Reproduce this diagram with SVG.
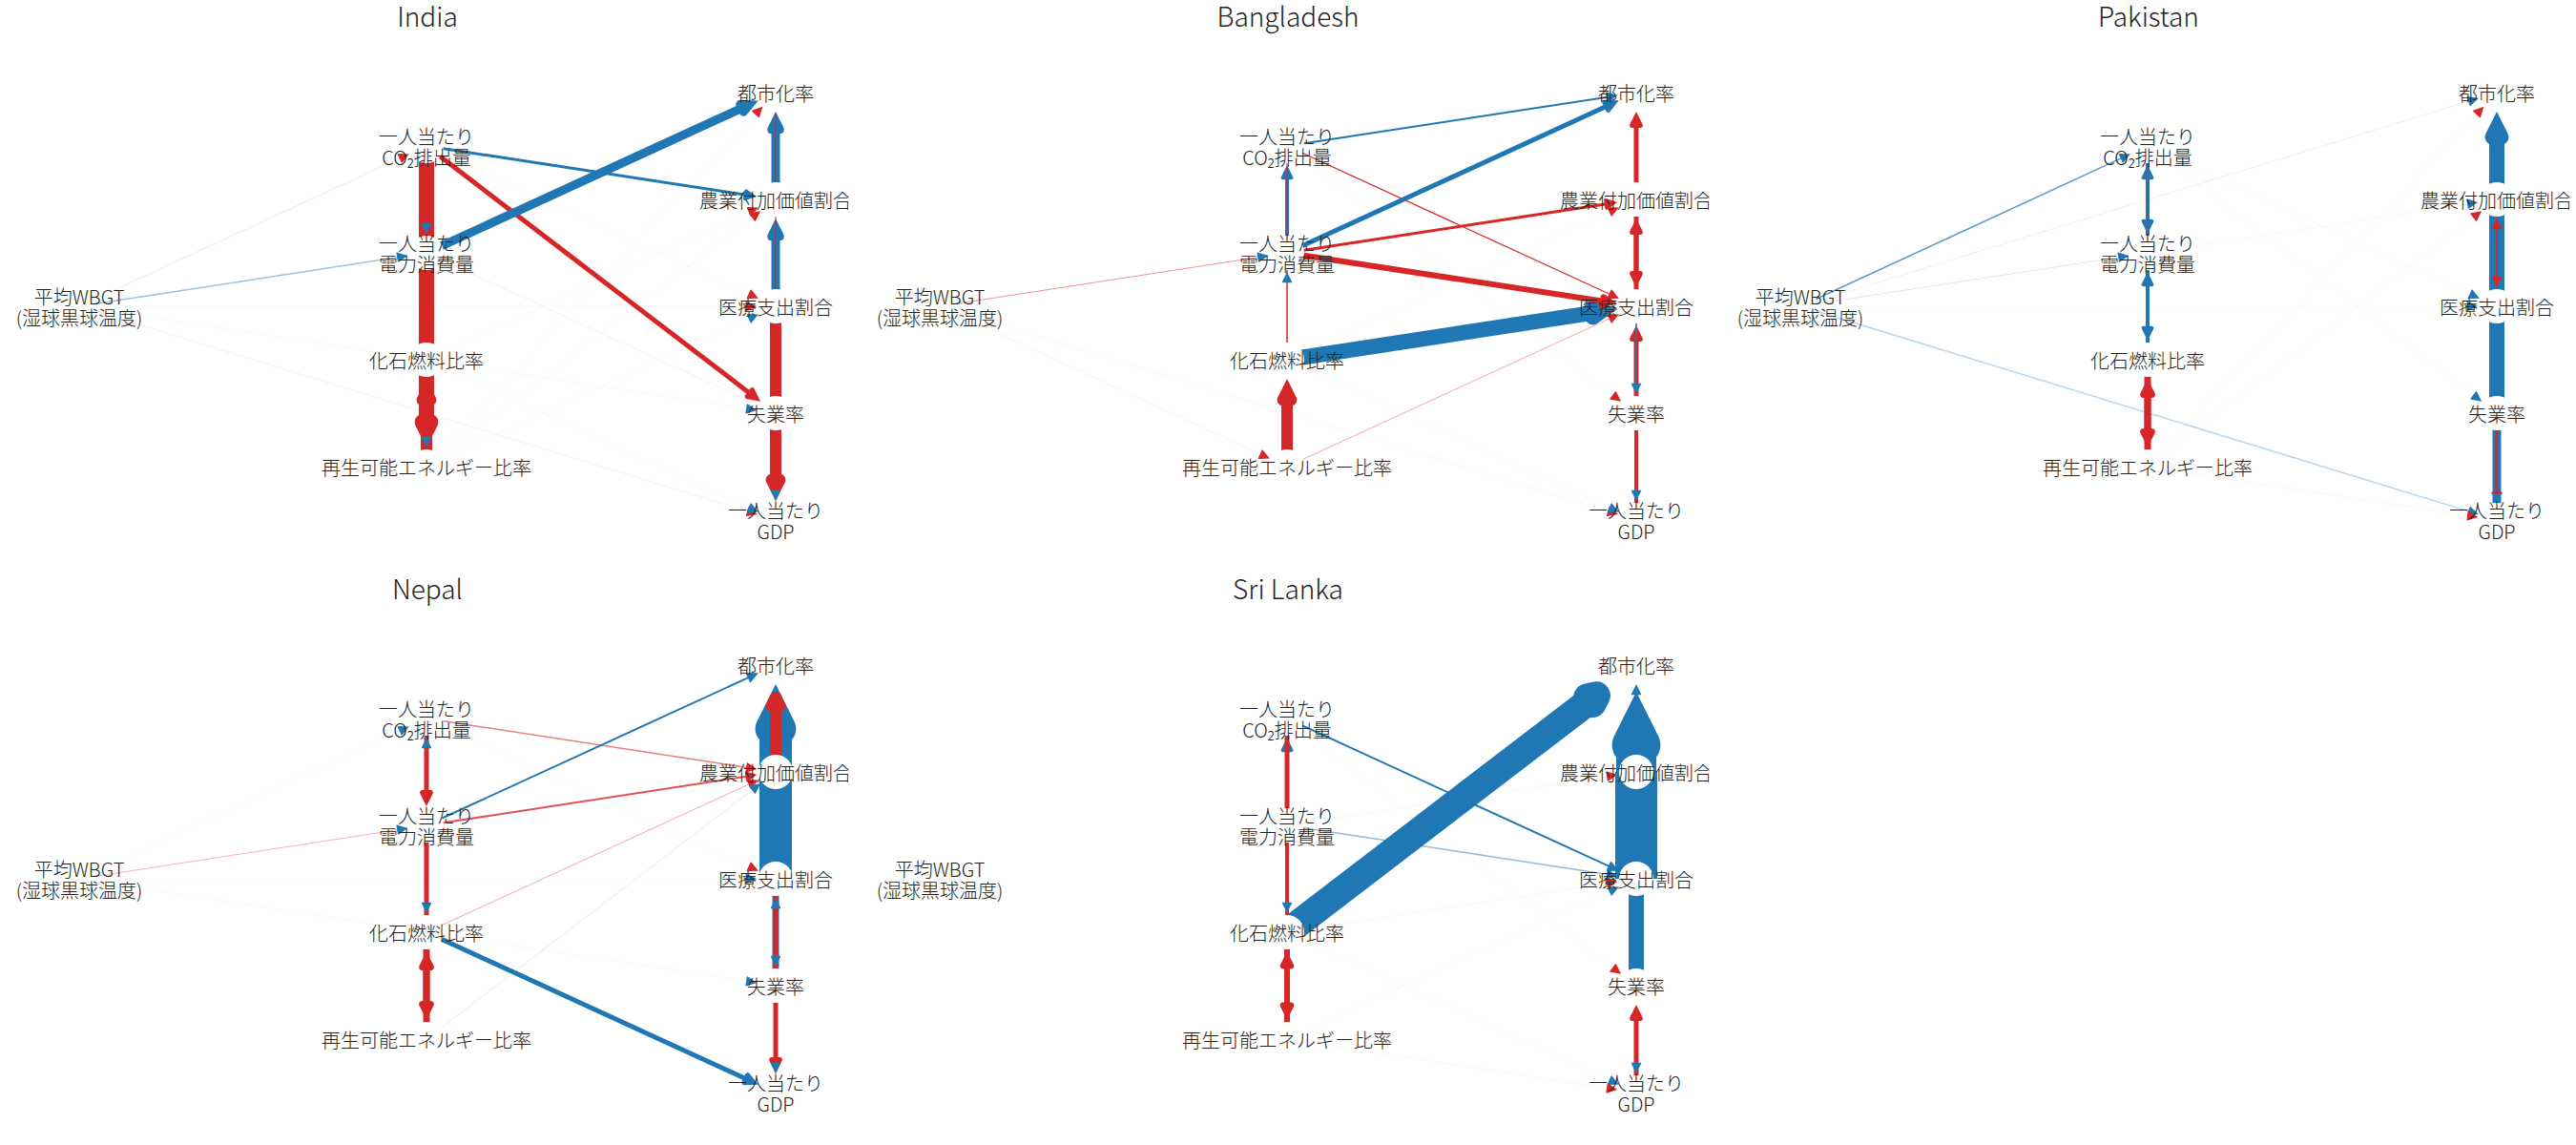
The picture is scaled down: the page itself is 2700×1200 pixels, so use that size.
<svg xmlns="http://www.w3.org/2000/svg" width="2700" height="1200" viewBox="0 0 2700 1200">
<style>
.eb{stroke:#1f77b4;fill:none}
.er{stroke:#d62728;fill:none}
.h{stroke:none;fill:none}
.fb{fill:#1f77b4}
.fr{fill:#d62728}
.nd circle{fill:#fff}
.nd text{font-family:"Noto Sans CJK JP","Noto Sans",sans-serif;font-weight:300;font-size:20px;fill:#222;text-anchor:middle;dominant-baseline:central}
.tt{font-family:"Noto Sans CJK JP","Noto Sans",sans-serif;font-weight:300;font-size:28px;fill:#222;text-anchor:middle}
marker{overflow:visible}
</style>
<defs>
<clipPath id="cp"><rect x="0" y="35" width="889.5" height="560"/></clipPath>
<marker id="b1" markerUnits="userSpaceOnUse" orient="auto" markerWidth="1" markerHeight="1"><path class="fb" d="M1.68,0L-8.46,5.07A0.75,0.75 0 0 1 -9.55,4.4L-9.55,-4.4A0.75,0.75 0 0 1 -8.46,-5.07Z"/></marker>
<marker id="r1" markerUnits="userSpaceOnUse" orient="auto" markerWidth="1" markerHeight="1"><path class="fr" d="M1.68,0L-8.46,5.07A0.75,0.75 0 0 1 -9.55,4.4L-9.55,-4.4A0.75,0.75 0 0 1 -8.46,-5.07Z"/></marker>
<marker id="b2" markerUnits="userSpaceOnUse" orient="auto" markerWidth="1" markerHeight="1"><path class="fb" d="M2.24,0L-8.35,5.29A1,1 0 0 1 -9.8,4.4L-9.8,-4.4A1,1 0 0 1 -8.35,-5.29Z"/></marker>
<marker id="r2" markerUnits="userSpaceOnUse" orient="auto" markerWidth="1" markerHeight="1"><path class="fr" d="M2.24,0L-8.35,5.29A1,1 0 0 1 -9.8,4.4L-9.8,-4.4A1,1 0 0 1 -8.35,-5.29Z"/></marker>
<marker id="b3" markerUnits="userSpaceOnUse" orient="auto" markerWidth="1" markerHeight="1"><path class="fb" d="M3.35,0L-8.13,5.74A1.5,1.5 0 0 1 -10.3,4.4L-10.3,-4.4A1.5,1.5 0 0 1 -8.13,-5.74Z"/></marker>
<marker id="r3" markerUnits="userSpaceOnUse" orient="auto" markerWidth="1" markerHeight="1"><path class="fr" d="M3.35,0L-8.13,5.74A1.5,1.5 0 0 1 -10.3,4.4L-10.3,-4.4A1.5,1.5 0 0 1 -8.13,-5.74Z"/></marker>
<marker id="b4" markerUnits="userSpaceOnUse" orient="auto" markerWidth="1" markerHeight="1"><path class="fb" d="M4.47,0L-7.91,6.19A2,2 0 0 1 -10.8,4.4L-10.8,-4.4A2,2 0 0 1 -7.91,-6.19Z"/></marker>
<marker id="b5" markerUnits="userSpaceOnUse" orient="auto" markerWidth="1" markerHeight="1"><path class="fb" d="M5.59,0L-7.68,6.64A2.5,2.5 0 0 1 -11.3,4.4L-11.3,-4.4A2.5,2.5 0 0 1 -7.68,-6.64Z"/></marker>
<marker id="r5" markerUnits="userSpaceOnUse" orient="auto" markerWidth="1" markerHeight="1"><path class="fr" d="M5.59,0L-7.68,6.64A2.5,2.5 0 0 1 -11.3,4.4L-11.3,-4.4A2.5,2.5 0 0 1 -7.68,-6.64Z"/></marker>
<marker id="r6" markerUnits="userSpaceOnUse" orient="auto" markerWidth="1" markerHeight="1"><path class="fr" d="M6.71,0L-7.46,7.08A3,3 0 0 1 -11.8,4.4L-11.8,-4.4A3,3 0 0 1 -7.46,-7.08Z"/></marker>
<marker id="r7" markerUnits="userSpaceOnUse" orient="auto" markerWidth="1" markerHeight="1"><path class="fr" d="M7.83,0L-7.24,7.53A3.5,3.5 0 0 1 -12.3,4.4L-12.3,-4.4A3.5,3.5 0 0 1 -7.24,-7.53Z"/></marker>
<marker id="b9" markerUnits="userSpaceOnUse" orient="auto" markerWidth="1" markerHeight="1"><path class="fb" d="M10.06,0L-6.79,8.42A4.5,4.5 0 0 1 -13.3,4.4L-13.3,-4.4A4.5,4.5 0 0 1 -6.79,-8.42Z"/></marker>
<marker id="r12" markerUnits="userSpaceOnUse" orient="auto" markerWidth="1" markerHeight="1"><path class="fr" d="M13.42,0L-6.12,9.76A6,6 0 0 1 -14.8,4.4L-14.8,-4.4A6,6 0 0 1 -6.12,-9.76Z"/></marker>
<marker id="r12r" markerUnits="userSpaceOnUse" orient="auto" markerWidth="1" markerHeight="1"><path class="fr" d="M2.68,-5.36A6,6 0 0 1 2.68,5.36L-6.12,9.76A6,6 0 0 1 -14.8,4.4L-14.8,-4.4A6,6 0 0 1 -6.12,-9.76Z"/></marker>
<marker id="b16" markerUnits="userSpaceOnUse" orient="auto" markerWidth="1" markerHeight="1"><path class="fb" d="M17.89,0L-5.22,11.55A8,8 0 0 1 -16.8,4.4L-16.8,-4.4A8,8 0 0 1 -5.22,-11.55Z"/></marker>
<marker id="r16" markerUnits="userSpaceOnUse" orient="auto" markerWidth="1" markerHeight="1"><path class="fr" d="M17.89,0L-5.22,11.55A8,8 0 0 1 -16.8,4.4L-16.8,-4.4A8,8 0 0 1 -5.22,-11.55Z"/></marker>
<marker id="b29" markerUnits="userSpaceOnUse" orient="auto" markerWidth="1" markerHeight="1"><path class="fb" d="M6.48,-12.96A14.5,14.5 0 0 1 6.48,12.96L-2.32,17.36A14.5,14.5 0 0 1 -23.3,4.4L-23.3,-4.4A14.5,14.5 0 0 1 -2.32,-17.36Z"/></marker>
<marker id="b34" markerUnits="userSpaceOnUse" orient="auto" markerWidth="1" markerHeight="1"><path class="fb" d="M38.01,0L-1.2,19.6A17,17 0 0 1 -25.8,4.4L-25.8,-4.4A17,17 0 0 1 -1.2,-19.6Z"/></marker>
<marker id="b42" markerUnits="userSpaceOnUse" orient="auto" markerWidth="1" markerHeight="1"><path class="fb" d="M46.96,0L0.59,23.17A21,21 0 0 1 -29.8,4.4L-29.8,-4.4A21,21 0 0 1 0.59,-23.17Z"/></marker>
</defs>
<rect width="2700" height="1200" fill="#fff"/>

<!-- ===== India ===== -->
<g id="india" transform="translate(0,0)">
<text class="tt" x="448" y="28">India</text>
<g id="india-edges">
<line class="er" stroke-width="1" stroke-opacity=".12" x1="83" y1="321" x2="427.3" y2="162.1" marker-end="url(#r1)"/>
<line class="eb" stroke-width="1.5" stroke-opacity=".45" x1="83" y1="321" x2="425.6" y2="268.3" marker-end="url(#b1)"/>
<line class="er" stroke-width="1" stroke-opacity=".08" x1="83" y1="321" x2="792.3" y2="538.6" marker-end="url(#r1)"/>
<line class="er" stroke-width="1" stroke-opacity=".08" x1="447" y1="265" x2="793.3" y2="424"/>
<line class="eb" stroke-width="1" stroke-opacity=".035" x1="83" y1="321" x2="791.5" y2="429.7" marker-end="url(#b1)"/>
<line class="eb" stroke-width="1" stroke-opacity=".035" x1="447" y1="377" x2="793.3" y2="535.9" marker-end="url(#b1)"/>
<line class="er" stroke-width="1" stroke-opacity=".035" x1="447" y1="153" x2="793.3" y2="312" marker-end="url(#r1)"/>
<line class="er" stroke-width="1" stroke-opacity=".035" x1="83" y1="321" x2="791.3" y2="321" marker-end="url(#r1)"/>
<line class="eb" stroke-width="1" stroke-opacity=".035" x1="447" y1="489" x2="793.3" y2="330.1" marker-end="url(#b1)"/>
<line class="er" stroke-width="1" stroke-opacity=".035" x1="447" y1="489" x2="798.2" y2="112.9" marker-end="url(#r1)"/>
<line class="er" stroke-width="1" stroke-opacity=".035" x1="447" y1="377" x2="793.3" y2="218.1" marker-end="url(#r1)"/>
<line class="er" stroke-width="1" stroke-opacity=".035" x1="447" y1="489" x2="795.8" y2="222.2" marker-end="url(#r1)"/>
<line class="er" stroke-width="16" x1="447" y1="153" x2="447" y2="265"/>
<line class="er" stroke-width="16" x1="447" y1="265" x2="447" y2="377"/>
<line class="er" stroke-width="12" x1="447" y1="489" x2="447" y2="410.4" marker-end="url(#r12)"/>
<line class="er" stroke-width="16" x1="447" y1="377" x2="447" y2="451.1" marker-end="url(#r16)"/>
<line class="er" stroke-width="5" x1="447" y1="153" x2="792.7" y2="417.4" marker-end="url(#r5)"/>
<line class="eb" stroke-width="9" x1="447" y1="265" x2="785.6" y2="109.6" marker-end="url(#b9)"/>
<line class="eb" stroke-width="3" x1="447" y1="153" x2="789.9" y2="205.5" marker-end="url(#b3)"/>
<line class="eb" stroke-width="9" x1="813" y1="209" x2="813" y2="127.1" marker-end="url(#b9)"/>
<line class="eb" stroke-width="9" x1="813" y1="321" x2="813" y2="239.1" marker-end="url(#b9)"/>
<line class="er" stroke-width="1" x1="813" y1="209" x2="813" y2="118"/>
<line class="er" stroke-width="1" x1="813" y1="321" x2="813" y2="209"/>
<line class="er" stroke-width="12" x1="813" y1="321" x2="813" y2="433"/>
<line class="er" stroke-width="12" x1="813" y1="433" x2="813" y2="511.6" marker-end="url(#r12)"/>
<line class="h" x1="447" y1="153" x2="447" y2="243.3" marker-end="url(#b1)"/>
<line class="h" x1="447" y1="377" x2="447" y2="467.3" marker-end="url(#b1)"/>
<line class="h" x1="813" y1="433" x2="813" y2="523.3" marker-end="url(#b1)"/>
</g>
<g clip-path="url(#cp)">
<g id="in-urb" class="nd"><circle cx="813" cy="97" r="18"/><text x="813" y="97">都市化率</text></g>
<g id="in-agr" class="nd"><circle cx="813" cy="209" r="18"/><text x="813" y="209">農業付加価値割合</text></g>
<g id="in-hlt" class="nd"><circle cx="813" cy="321" r="18"/><text x="813" y="321">医療支出割合</text></g>
<g id="in-une" class="nd"><circle cx="813" cy="433" r="18"/><text x="813" y="433">失業率</text></g>
<g id="in-gdp" class="nd"><circle cx="813" cy="545" r="18"/><text x="813" y="534">一人当たり<tspan x="813" dy="22">GDP</tspan></text></g>
<g id="in-co2" class="nd"><circle cx="447" cy="153" r="18"/><text x="447" y="142">一人当たり<tspan x="447" dy="22">CO₂排出量</tspan></text></g>
<g id="in-ele" class="nd"><circle cx="447" cy="265" r="18"/><text x="447" y="254">一人当たり<tspan x="447" dy="22">電力消費量</tspan></text></g>
<g id="in-fos" class="nd"><circle cx="447" cy="377" r="18"/><text x="447" y="377">化石燃料比率</text></g>
<g id="in-ren" class="nd"><circle cx="447" cy="489" r="18"/><text x="447" y="489">再生可能エネルギー比率</text></g>
<g id="in-wbgt" class="nd"><circle cx="83" cy="321" r="18"/><text x="83" y="310">平均WBGT<tspan x="83" dy="22">(湿球黒球温度)</tspan></text></g>
</g>
</g>

<!-- ===== Bangladesh ===== -->
<g id="bangladesh" transform="translate(902,0)">
<text class="tt" x="448" y="28">Bangladesh</text>
<g id="bangladesh-edges">
<line class="er" stroke-width="1" stroke-opacity=".5" x1="83" y1="321" x2="425.6" y2="268.3" marker-end="url(#b1)"/>
<line class="er" stroke-width="1" stroke-opacity=".06" x1="83" y1="321" x2="427.3" y2="479.9" marker-end="url(#r1)"/>
<line class="er" stroke-width="1" stroke-opacity=".4" x1="447" y1="489" x2="793.3" y2="330.1" marker-end="url(#r1)"/>
<line class="er" stroke-width="1" stroke-opacity=".035" x1="447" y1="377" x2="793.3" y2="218.1" marker-end="url(#r1)"/>
<line class="er" stroke-width="1" stroke-opacity=".035" x1="447" y1="153" x2="795.8" y2="419.8" marker-end="url(#r1)"/>
<line class="er" stroke-width="1" stroke-opacity=".035" x1="83" y1="321" x2="792.3" y2="538.6" marker-end="url(#r1)"/>
<line class="eb" stroke-width="1" stroke-opacity=".035" x1="447" y1="377" x2="793.3" y2="535.9" marker-end="url(#b1)"/>
<line class="er" stroke-width="1.2" x1="447" y1="153" x2="793.3" y2="312" marker-end="url(#r1)"/>
<line class="eb" stroke-width="16" x1="447" y1="377" x2="775.5" y2="326.7" marker-end="url(#b16)"/>
<line class="eb" stroke-width="2" x1="447" y1="153" x2="791.1" y2="100.4" marker-end="url(#b2)"/>
<line class="eb" stroke-width="5" x1="447" y1="265" x2="789.7" y2="107.7" marker-end="url(#b5)"/>
<line class="eb" stroke-width="4" x1="447" y1="265" x2="447" y2="177.5" marker-end="url(#b4)"/>
<line class="er" stroke-width="1" x1="447" y1="153" x2="447" y2="265"/>
<line class="er" stroke-width="3" x1="447" y1="265" x2="789.9" y2="212.5" marker-end="url(#r3)"/>
<line class="er" stroke-width="6" x1="447" y1="265" x2="786.6" y2="317" marker-end="url(#r6)"/>
<line class="er" stroke-width="1.5" x1="447" y1="377" x2="447" y2="265"/>
<line class="h" x1="447" y1="377" x2="447" y2="286.7" marker-end="url(#b1)"/>
<line class="er" stroke-width="12" x1="447" y1="489" x2="447" y2="410.4" marker-end="url(#r12)"/>
<line class="er" stroke-width="5" x1="813" y1="209" x2="813" y2="122.6" marker-end="url(#r5)"/>
<line class="er" stroke-width="5" x1="813" y1="209" x2="813" y2="295.4" marker-end="url(#r5)"/>
<line class="er" stroke-width="5" x1="813" y1="321" x2="813" y2="234.6" marker-end="url(#r5)"/>
<line class="er" stroke-width="5" x1="813" y1="433" x2="813" y2="346.6" marker-end="url(#r5)"/>
<line class="eb" stroke-width="1.5" x1="813" y1="321" x2="813" y2="411.3" marker-end="url(#b1)"/>
<line class="er" stroke-width="4" x1="813" y1="433" x2="813" y2="545"/>
<line class="h" x1="813" y1="433" x2="813" y2="523.3" marker-end="url(#b1)"/>
</g>
<g clip-path="url(#cp)">
<g id="bd-urb" class="nd"><circle cx="813" cy="97" r="18"/><text x="813" y="97">都市化率</text></g>
<g id="bd-agr" class="nd"><circle cx="813" cy="209" r="18"/><text x="813" y="209">農業付加価値割合</text></g>
<g id="bd-hlt" class="nd"><circle cx="813" cy="321" r="18"/><text x="813" y="321">医療支出割合</text></g>
<g id="bd-une" class="nd"><circle cx="813" cy="433" r="18"/><text x="813" y="433">失業率</text></g>
<g id="bd-gdp" class="nd"><circle cx="813" cy="545" r="18"/><text x="813" y="534">一人当たり<tspan x="813" dy="22">GDP</tspan></text></g>
<g id="bd-co2" class="nd"><circle cx="447" cy="153" r="18"/><text x="447" y="142">一人当たり<tspan x="447" dy="22">CO₂排出量</tspan></text></g>
<g id="bd-ele" class="nd"><circle cx="447" cy="265" r="18"/><text x="447" y="254">一人当たり<tspan x="447" dy="22">電力消費量</tspan></text></g>
<g id="bd-fos" class="nd"><circle cx="447" cy="377" r="18"/><text x="447" y="377">化石燃料比率</text></g>
<g id="bd-ren" class="nd"><circle cx="447" cy="489" r="18"/><text x="447" y="489">再生可能エネルギー比率</text></g>
<g id="bd-wbgt" class="nd"><circle cx="83" cy="321" r="18"/><text x="83" y="310">平均WBGT<tspan x="83" dy="22">(湿球黒球温度)</tspan></text></g>
</g>
</g>

<!-- ===== Pakistan ===== -->
<g id="pakistan" transform="translate(1804,0)">
<text class="tt" x="448" y="28">Pakistan</text>
<g id="pakistan-edges">
<line class="eb" stroke-width="1.5" stroke-opacity=".75" x1="83" y1="321" x2="427.3" y2="162.1" marker-end="url(#b1)"/>
<line class="eb" stroke-width="1" stroke-opacity=".12" x1="83" y1="321" x2="425.6" y2="268.3" marker-end="url(#b1)"/>
<line class="eb" stroke-width="1.5" stroke-opacity=".3" x1="83" y1="321" x2="792.3" y2="538.6" marker-end="url(#b1)"/>
<line class="er" stroke-width="1" stroke-opacity=".035" x1="447" y1="489" x2="791.5" y2="541.7" marker-end="url(#r1)"/>
<line class="eb" stroke-width="1" stroke-opacity=".1" x1="83" y1="321" x2="792.3" y2="103.4" marker-end="url(#b1)"/>
<line class="er" stroke-width="1" stroke-opacity=".035" x1="447" y1="489" x2="798.2" y2="112.9" marker-end="url(#r1)"/>
<line class="eb" stroke-width="1" stroke-opacity=".035" x1="83" y1="321" x2="791.5" y2="212.3" marker-end="url(#b1)"/>
<line class="er" stroke-width="1" stroke-opacity=".035" x1="447" y1="489" x2="795.8" y2="222.2" marker-end="url(#r1)"/>
<line class="eb" stroke-width="1" stroke-opacity=".035" x1="447" y1="153" x2="793.3" y2="312" marker-end="url(#b1)"/>
<line class="eb" stroke-width="1" stroke-opacity=".035" x1="83" y1="321" x2="791.3" y2="321" marker-end="url(#b1)"/>
<line class="eb" stroke-width="1" stroke-opacity=".035" x1="447" y1="153" x2="795.8" y2="419.8" marker-end="url(#b1)"/>
<line class="eb" stroke-width="16" x1="813" y1="209" x2="813" y2="134.9" marker-end="url(#b16)"/>
<line class="eb" stroke-width="16" x1="813" y1="321" x2="813" y2="209"/>
<line class="eb" stroke-width="16" x1="813" y1="321" x2="813" y2="433"/>
<line class="eb" stroke-width="9" x1="813" y1="433" x2="813" y2="545"/>
<line class="er" stroke-width="1" x1="813" y1="209" x2="813" y2="299.3" marker-end="url(#r1)"/>
<line class="er" stroke-width="1" x1="813" y1="321" x2="813" y2="230.7" marker-end="url(#r1)"/>
<line class="er" stroke-width="2.5" x1="813" y1="433" x2="813" y2="517"/>
<rect class="fr" x="807.5" y="515.5" width="11" height="2.5"/>
<line class="eb" stroke-width="4" x1="447" y1="153" x2="447" y2="240.5" marker-end="url(#b4)"/>
<line class="eb" stroke-width="4" x1="447" y1="265" x2="447" y2="177.5" marker-end="url(#b4)"/>
<line class="er" stroke-width="1" stroke-opacity=".5" x1="447" y1="153" x2="447" y2="265"/>
<line class="eb" stroke-width="4" x1="447" y1="265" x2="447" y2="352.5" marker-end="url(#b4)"/>
<line class="eb" stroke-width="4" x1="447" y1="377" x2="447" y2="289.5" marker-end="url(#b4)"/>
<line class="er" stroke-width="7" x1="447" y1="377" x2="447" y2="461.2" marker-end="url(#r7)"/>
<line class="er" stroke-width="7" x1="447" y1="489" x2="447" y2="404.8" marker-end="url(#r7)"/>
</g>
<g clip-path="url(#cp)">
<g id="pk-urb" class="nd"><circle cx="813" cy="97" r="18"/><text x="813" y="97">都市化率</text></g>
<g id="pk-agr" class="nd"><circle cx="813" cy="209" r="18"/><text x="813" y="209">農業付加価値割合</text></g>
<g id="pk-hlt" class="nd"><circle cx="813" cy="321" r="18"/><text x="813" y="321">医療支出割合</text></g>
<g id="pk-une" class="nd"><circle cx="813" cy="433" r="18"/><text x="813" y="433">失業率</text></g>
<g id="pk-gdp" class="nd"><circle cx="813" cy="545" r="18"/><text x="813" y="534">一人当たり<tspan x="813" dy="22">GDP</tspan></text></g>
<g id="pk-co2" class="nd"><circle cx="447" cy="153" r="18"/><text x="447" y="142">一人当たり<tspan x="447" dy="22">CO₂排出量</tspan></text></g>
<g id="pk-ele" class="nd"><circle cx="447" cy="265" r="18"/><text x="447" y="254">一人当たり<tspan x="447" dy="22">電力消費量</tspan></text></g>
<g id="pk-fos" class="nd"><circle cx="447" cy="377" r="18"/><text x="447" y="377">化石燃料比率</text></g>
<g id="pk-ren" class="nd"><circle cx="447" cy="489" r="18"/><text x="447" y="489">再生可能エネルギー比率</text></g>
<g id="pk-wbgt" class="nd"><circle cx="83" cy="321" r="18"/><text x="83" y="310">平均WBGT<tspan x="83" dy="22">(湿球黒球温度)</tspan></text></g>
</g>
</g>

<!-- ===== Nepal ===== -->
<g id="nepal" transform="translate(0,600)">
<text class="tt" x="448" y="28">Nepal</text>
<g id="nepal-edges">
<line class="er" stroke-width="1.5" stroke-opacity=".6" x1="447" y1="153" x2="791.5" y2="205.7" marker-end="url(#r1)"/>
<line class="er" stroke-width="2" stroke-opacity=".8" x1="447" y1="265" x2="791.1" y2="212.4" marker-end="url(#r2)"/>
<line class="er" stroke-width="1" stroke-opacity=".4" x1="447" y1="377" x2="793.3" y2="218.1" marker-end="url(#r1)"/>
<line class="eb" stroke-width="1" stroke-opacity=".12" x1="447" y1="489" x2="795.8" y2="222.2" marker-end="url(#b1)"/>
<line class="er" stroke-width="1" stroke-opacity=".35" x1="83" y1="321" x2="425.6" y2="268.3" marker-end="url(#b1)"/>
<line class="eb" stroke-width="1" stroke-opacity=".035" x1="83" y1="321" x2="427.3" y2="162.1" marker-end="url(#b1)"/>
<line class="er" stroke-width="1" stroke-opacity=".035" x1="447" y1="153" x2="793.3" y2="312" marker-end="url(#r1)"/>
<line class="eb" stroke-width="1" stroke-opacity=".035" x1="83" y1="321" x2="791.3" y2="321" marker-end="url(#b1)"/>
<line class="eb" stroke-width="1" stroke-opacity=".035" x1="83" y1="321" x2="791.5" y2="429.7" marker-end="url(#b1)"/>
<line class="eb" stroke-width="34" x1="813" y1="321" x2="813" y2="209"/>
<line class="eb" stroke-width="34" x1="813" y1="209" x2="813" y2="155" marker-end="url(#b34)"/>
<line class="er" stroke-width="12" x1="813" y1="209" x2="813" y2="131" marker-end="url(#r12r)"/>
<line class="eb" stroke-width="7" x1="813" y1="321" x2="813" y2="433"/>
<line class="er" stroke-width="5" x1="813" y1="321" x2="813" y2="433"/>
<line class="h" x1="813" y1="321" x2="813" y2="411.3" marker-end="url(#b1)"/>
<line class="h" x1="813" y1="433" x2="813" y2="342.7" marker-end="url(#b1)"/>
<line class="er" stroke-width="5" x1="813" y1="433" x2="813" y2="519.4" marker-end="url(#r5)"/>
<line class="h" x1="813" y1="433" x2="813" y2="523.3" marker-end="url(#b1)"/>
<line class="eb" stroke-width="2" x1="447" y1="265" x2="792.8" y2="106.3" marker-end="url(#b2)"/>
<line class="eb" stroke-width="5" x1="447" y1="377" x2="789.7" y2="534.3" marker-end="url(#b5)"/>
<line class="er" stroke-width="5" x1="447" y1="153" x2="447" y2="239.4" marker-end="url(#r5)"/>
<line class="h" x1="447" y1="265" x2="447" y2="174.7" marker-end="url(#b1)"/>
<line class="er" stroke-width="5" x1="447" y1="265" x2="447" y2="377"/>
<line class="h" x1="447" y1="265" x2="447" y2="355.3" marker-end="url(#b1)"/>
<line class="er" stroke-width="7" x1="447" y1="377" x2="447" y2="461.2" marker-end="url(#r7)"/>
<line class="er" stroke-width="7" x1="447" y1="489" x2="447" y2="404.8" marker-end="url(#r7)"/>
</g>
<g clip-path="url(#cp)">
<g id="np-urb" class="nd"><circle cx="813" cy="97" r="18"/><text x="813" y="97">都市化率</text></g>
<g id="np-agr" class="nd"><circle cx="813" cy="209" r="18"/><text x="813" y="209">農業付加価値割合</text></g>
<g id="np-hlt" class="nd"><circle cx="813" cy="321" r="18"/><text x="813" y="321">医療支出割合</text></g>
<g id="np-une" class="nd"><circle cx="813" cy="433" r="18"/><text x="813" y="433">失業率</text></g>
<g id="np-gdp" class="nd"><circle cx="813" cy="545" r="18"/><text x="813" y="534">一人当たり<tspan x="813" dy="22">GDP</tspan></text></g>
<g id="np-co2" class="nd"><circle cx="447" cy="153" r="18"/><text x="447" y="142">一人当たり<tspan x="447" dy="22">CO₂排出量</tspan></text></g>
<g id="np-ele" class="nd"><circle cx="447" cy="265" r="18"/><text x="447" y="254">一人当たり<tspan x="447" dy="22">電力消費量</tspan></text></g>
<g id="np-fos" class="nd"><circle cx="447" cy="377" r="18"/><text x="447" y="377">化石燃料比率</text></g>
<g id="np-ren" class="nd"><circle cx="447" cy="489" r="18"/><text x="447" y="489">再生可能エネルギー比率</text></g>
<g id="np-wbgt" class="nd"><circle cx="83" cy="321" r="18"/><text x="83" y="310">平均WBGT<tspan x="83" dy="22">(湿球黒球温度)</tspan></text></g>
</g>
</g>

<!-- ===== Sri Lanka ===== -->
<g id="srilanka" transform="translate(902,600)">
<text class="tt" x="448" y="28">Sri Lanka</text>
<g id="srilanka-edges">
<line class="er" stroke-width="1" stroke-opacity=".035" x1="447" y1="265" x2="791.5" y2="212.3" marker-end="url(#r1)"/>
<line class="er" stroke-width="1" stroke-opacity=".035" x1="447" y1="377" x2="791.5" y2="324.3" marker-end="url(#r1)"/>
<line class="eb" stroke-width="1" stroke-opacity=".035" x1="447" y1="489" x2="793.3" y2="330.1" marker-end="url(#b1)"/>
<line class="er" stroke-width="1" stroke-opacity=".035" x1="447" y1="153" x2="795.8" y2="419.8" marker-end="url(#r1)"/>
<line class="eb" stroke-width="1" stroke-opacity=".035" x1="447" y1="377" x2="793.3" y2="535.9" marker-end="url(#b1)"/>
<line class="er" stroke-width="1" stroke-opacity=".035" x1="447" y1="489" x2="791.5" y2="541.7" marker-end="url(#r1)"/>
<line class="eb" stroke-width="44" x1="813" y1="321" x2="813" y2="209"/>
<line class="eb" stroke-width="42" x1="813" y1="209" x2="813" y2="172" marker-end="url(#b42)"/>
<line class="h" x1="813" y1="209" x2="813" y2="118.7" marker-end="url(#b1)"/>
<line class="eb" stroke-width="16" x1="813" y1="321" x2="813" y2="433"/>
<line class="eb" stroke-width="29" x1="447" y1="377" x2="771.4" y2="128.8" marker-end="url(#b29)"/>
<line class="eb" stroke-width="2" x1="447" y1="153" x2="792.8" y2="311.7" marker-end="url(#b2)"/>
<line class="eb" stroke-width="1.5" stroke-opacity=".5" x1="447" y1="265" x2="791.5" y2="317.7" marker-end="url(#b1)"/>
<line class="eb" stroke-width="4" x1="447" y1="265" x2="447" y2="177.5" marker-end="url(#b4)"/>
<line class="er" stroke-width="5" x1="447" y1="153" x2="447" y2="265"/>
<line class="er" stroke-width="4" x1="447" y1="265" x2="447" y2="377"/>
<line class="h" x1="447" y1="265" x2="447" y2="355.3" marker-end="url(#b1)"/>
<line class="er" stroke-width="6" x1="447" y1="377" x2="447" y2="462.3" marker-end="url(#r6)"/>
<line class="er" stroke-width="6" x1="447" y1="489" x2="447" y2="403.7" marker-end="url(#r6)"/>
<line class="er" stroke-width="5" x1="813" y1="545" x2="813" y2="458.6" marker-end="url(#r5)"/>
<line class="h" x1="813" y1="433" x2="813" y2="523.3" marker-end="url(#b1)"/>
</g>
<g clip-path="url(#cp)">
<g id="lk-urb" class="nd"><circle cx="813" cy="97" r="18"/><text x="813" y="97">都市化率</text></g>
<g id="lk-agr" class="nd"><circle cx="813" cy="209" r="18"/><text x="813" y="209">農業付加価値割合</text></g>
<g id="lk-hlt" class="nd"><circle cx="813" cy="321" r="18"/><text x="813" y="321">医療支出割合</text></g>
<g id="lk-une" class="nd"><circle cx="813" cy="433" r="18"/><text x="813" y="433">失業率</text></g>
<g id="lk-gdp" class="nd"><circle cx="813" cy="545" r="18"/><text x="813" y="534">一人当たり<tspan x="813" dy="22">GDP</tspan></text></g>
<g id="lk-co2" class="nd"><circle cx="447" cy="153" r="18"/><text x="447" y="142">一人当たり<tspan x="447" dy="22">CO₂排出量</tspan></text></g>
<g id="lk-ele" class="nd"><circle cx="447" cy="265" r="18"/><text x="447" y="254">一人当たり<tspan x="447" dy="22">電力消費量</tspan></text></g>
<g id="lk-fos" class="nd"><circle cx="447" cy="377" r="18"/><text x="447" y="377">化石燃料比率</text></g>
<g id="lk-ren" class="nd"><circle cx="447" cy="489" r="18"/><text x="447" y="489">再生可能エネルギー比率</text></g>
<g id="lk-wbgt" class="nd"><circle cx="83" cy="321" r="18"/><text x="83" y="310">平均WBGT<tspan x="83" dy="22">(湿球黒球温度)</tspan></text></g>
</g>
</g>
</svg>
